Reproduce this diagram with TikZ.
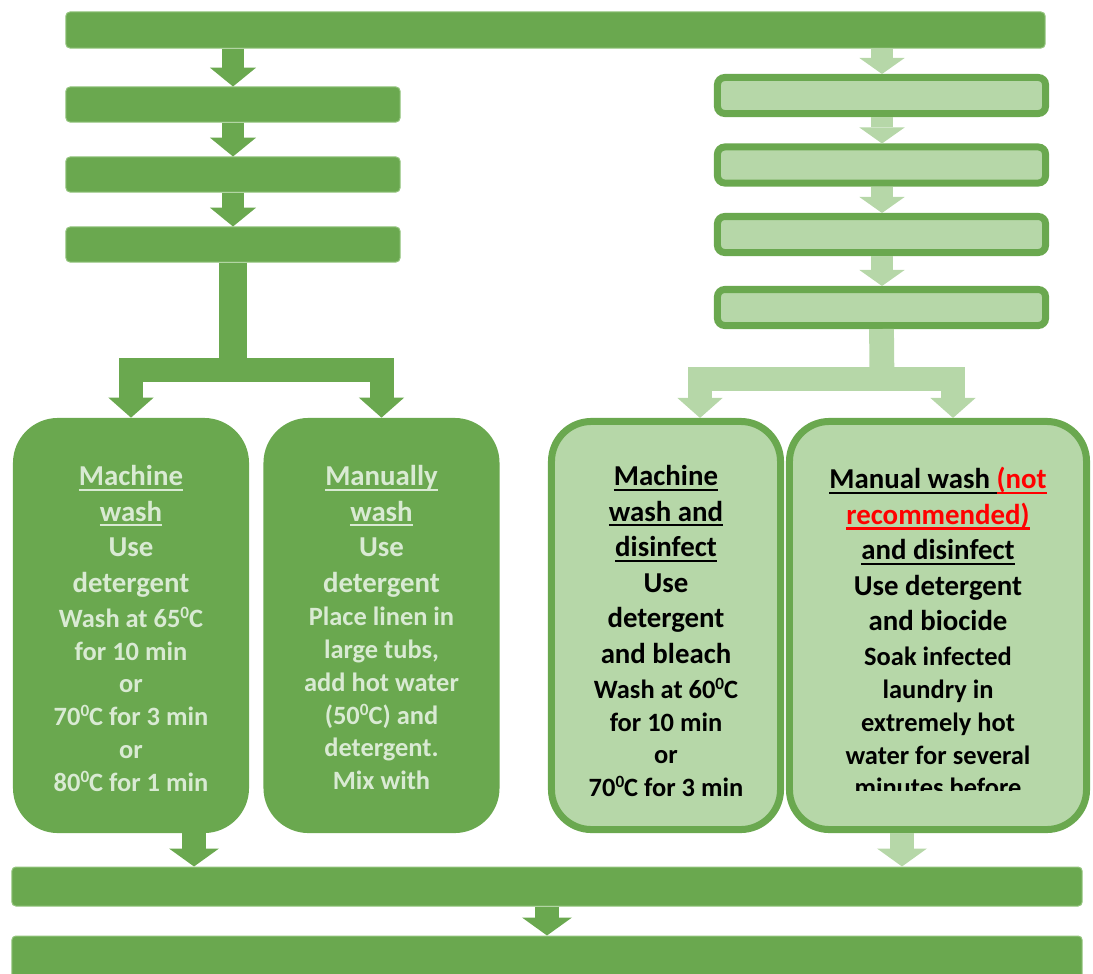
\documentclass[tikz,border=0pt]{standalone}
\usepackage{fontspec}
\usepackage{graphicx}
\setmainfont{Carlito}
\usetikzlibrary{arrows.meta}

\definecolor{leafdark}{HTML}{6AA84F}
\definecolor{leaflight}{HTML}{B6D7A8}
\definecolor{leafpale}{HTML}{D9EAD3}
\definecolor{leafedge}{HTML}{93C47D}

\newcommand{\lineunder}[1]{\setbox0\hbox{#1}\rlap{\vrule height -2.3pt depth 3.8pt width \wd0}\box0}
\newcommand{\degc}{\raisebox{0.33em}{\scalebox{0.65}{0}}C}

\begin{document}
\begin{tikzpicture}[x=0.025cm,y=-0.025cm,
    darkbar/.style={draw=leafedge,line width=0.025cm,fill=leafdark,rounded corners=0.1cm,inner sep=0},
    lightbar/.style={draw=leafdark,line width=0.175cm,fill=leaflight,rounded corners=0.18cm,inner sep=0,minimum width=8.2cm,minimum height=0.9cm},
    darkcard/.style={fill=leafdark,rounded corners=1.125cm,inner sep=0,minimum width=5.9cm,minimum height=10.375cm},
    lightcard/.style={draw=leafdark,line width=0.175cm,fill=leaflight,rounded corners=1cm,inner sep=0,minimum height=10.2cm},
    headtxt/.style={font=\fontsize{20.5}{25.3}\selectfont\bfseries,align=center,inner sep=0,anchor=north},
    bodytxt/.style={font=\fontsize{18.8}{23.3}\selectfont\bfseries,align=center,inner sep=0,anchor=north},
    darkstep/.style={draw=leafdark,line width=0.55cm,-{Triangle[width=1.15cm,length=0.47cm,line width=0pt]}},
    lightstep/.style={draw=leaflight,line width=0.57cm,-{Triangle[width=1.13cm,length=0.4cm,line width=0pt]}},
    branch/.style={line width=0.6cm,-{Triangle[width=1.13cm,length=0.5cm,line width=0pt]}},
    endstep/.style={line width=0.58cm,-{Triangle[width=1.25cm,length=0.45cm,line width=0pt]}}]
    \useasboundingbox (0,0) rectangle (1093,974);
    \clip (0,0) rectangle (1093,974);

    \node[darkbar,minimum width=24.475cm,minimum height=0.9cm] (top) at (555.5,30) {};

    \node[darkbar,minimum width=8.35cm,minimum height=0.875cm] (l1) at (233,104.5) {};
    \node[darkbar,minimum width=8.35cm,minimum height=0.875cm] (l2) at (233,174.5) {};
    \node[darkbar,minimum width=8.35cm,minimum height=0.875cm] (l3) at (233,244.5) {};

    \node[lightbar] (r1) at (881.5,95.5) {};
    \node[lightbar] (r2) at (881.5,165) {};
    \node[lightbar] (r3) at (881.5,234.5) {};
    \node[lightbar] (r4) at (881.5,307.5) {};

    \node[darkcard] (mwash) at (131,625.5) {};
    \node[darkcard] (hwash) at (381.5,625.5) {};
    \node[lightcard,minimum width=5.725cm] (mdis) at (666,625.5) {};
    \node[lightcard,minimum width=7.425cm] (hdis) at (938,625.5) {};

    \node[darkbar,minimum width=26.75cm,minimum height=0.975cm] (bar1) at (547,886.5) {};
    \node[darkbar,minimum width=26.75cm,minimum height=1.05cm] (bar2) at (547,957) {};

    \draw[darkstep] (l1.north |- top.south) -- (l1.north);
    \draw[darkstep] (l1.south) -- (l2.north);
    \draw[darkstep] (l2.south) -- (l3.north);

    \draw[lightstep] ([xshift=0.0125cm]r1.north |- top.south) -- ([xshift=0.0125cm]r1.north);
    \draw[lightstep] ([xshift=0.0125cm]r1.south) -- ([xshift=0.0125cm]r2.north);
    \draw[lightstep] ([xshift=0.0125cm]r2.south) -- ([xshift=0.0125cm]r3.north);
    \draw[lightstep] ([xshift=0.0125cm]r3.south) -- ([xshift=0.0125cm]r4.north);

    \coordinate (lsplit) at (233,369.5);
    \draw[leafdark,line width=0.7cm] (l3.south) -- (lsplit);
    \draw[branch,draw=leafdark] (lsplit) -| (mwash.north);
    \draw[branch,draw=leafdark] (lsplit) -| (hwash.north);

    \coordinate (rsplit) at (882,379);
    \draw[leaflight,line width=0.62cm] (r4.south) -- (rsplit);
    \draw[branch,draw=leaflight] (rsplit) -| ([xshift=0.85cm]mdis.north);
    \draw[branch,draw=leaflight] (rsplit) -| ([xshift=0.375cm]hdis.north);

    \draw[endstep,draw=leafdark] ([xshift=1.575cm]mwash.south) -- ([xshift=1.575cm]mwash.south |- bar1.north);
    \draw[endstep,draw=leaflight] ([xshift=-0.9cm]hdis.south) -- ([xshift=-0.9cm]hdis.south |- bar1.north);
    \draw[endstep,draw=leafdark] (bar1.south) -- (bar2.north);

    \node[headtxt,text=leafpale] (mwashhead) at (131,465) {\lineunder{Machine}\\\lineunder{wash}\\Use\\detergent};
    \node[bodytxt,text=leafpale] (mwashbody) at (131,607) {Wash at 65\degc\\for 10 min\\or\\70\degc{} for 3 min\\or\\80\degc{} for 1 min};

    \node[headtxt,text=leafpale] (hwashhead) at (381.5,465) {\lineunder{Manually}\\\lineunder{wash}\\Use\\detergent};
    \node[bodytxt,text=leafpale] (hwashbody) at (381.5,607) {Place linen in\\large tubs,\\add hot water\\(50\degc) and\\detergent.\\Mix with};

    \node[headtxt] (mdishead) at (666,465) {\lineunder{Machine}\\\lineunder{wash and}\\\lineunder{disinfect}\\Use\\detergent\\and bleach};
    \node[bodytxt] (mdisbody) at (666,678) {Wash at 60\degc\\for 10 min\\or\\70\degc{} for 3 min};

    \node[headtxt] (hdishead) at (938,467) {\lineunder{Manual wash\ }\textcolor{red}{\lineunder{(not}}\\\textcolor{red}{\lineunder{recommended)}}\\\lineunder{and disinfect}\\Use detergent\\and biocide};
    \begin{scope}
        \clip ([yshift=1.075cm]hdis.south west) rectangle (hdis.north east);
        \node[bodytxt] (hdisbody) at (938,647) {Soak infected\\laundry in\\extremely hot\\water for several\\minutes before\\washing};
    \end{scope}
\end{tikzpicture}
\end{document}
